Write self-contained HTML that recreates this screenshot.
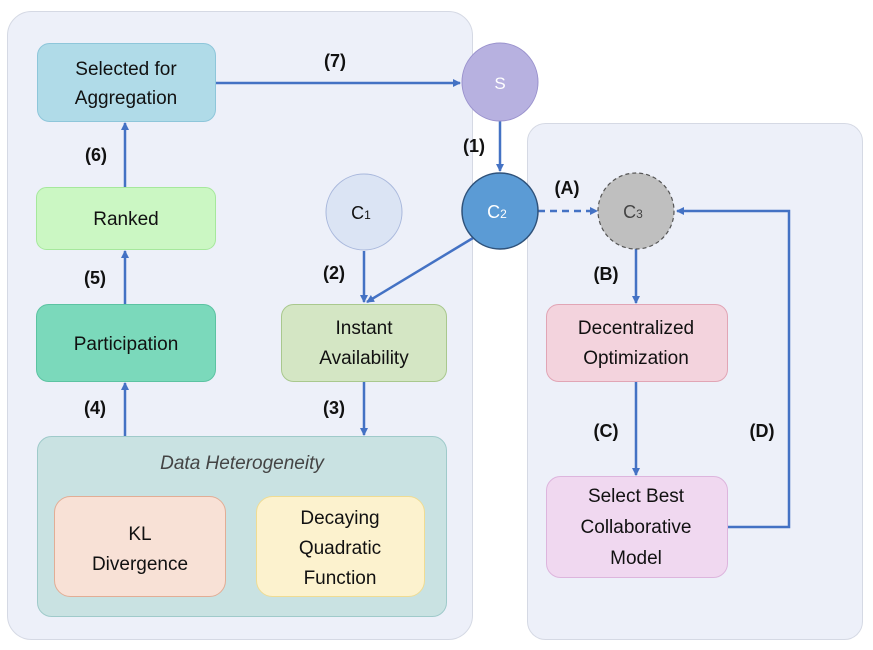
<!DOCTYPE html>
<html><head><meta charset="utf-8"><style>
html,body{margin:0;padding:0;background:#fff;width:873px;height:650px;overflow:hidden}
text{font-family:"Liberation Sans",sans-serif}
</style></head><body>
<svg width="873" height="650" viewBox="0 0 873 650" xmlns="http://www.w3.org/2000/svg">
<defs>
<marker id="a" markerWidth="8" markerHeight="8" refX="7" refY="4" orient="auto" markerUnits="userSpaceOnUse">
<path d="M0,0 L8,4 L0,8 z" fill="#4472c4"/></marker>
</defs>
<rect x="7.5" y="11.5" width="465" height="628" rx="24" fill="#edf0f9" stroke="#d5d9e4"/>
<rect x="527.5" y="123.5" width="335" height="516" rx="18" fill="#edf0f9" stroke="#d5d9e4"/>

<g stroke="#4472c4" stroke-width="2.5" fill="none">
<line x1="216" y1="83" x2="460" y2="83" marker-end="url(#a)"/>
<line x1="500" y1="121" x2="500" y2="171" marker-end="url(#a)"/>
<line x1="364" y1="251" x2="364" y2="302" marker-end="url(#a)"/>
<line x1="473" y1="238" x2="367" y2="302" marker-end="url(#a)"/>
<line x1="364" y1="382" x2="364" y2="435" marker-end="url(#a)"/>
<line x1="125" y1="436" x2="125" y2="383" marker-end="url(#a)"/>
<line x1="125" y1="304" x2="125" y2="251" marker-end="url(#a)"/>
<line x1="125" y1="187" x2="125" y2="123" marker-end="url(#a)"/>
<line x1="538" y1="211" x2="597" y2="211" stroke-dasharray="7,5" marker-end="url(#a)"/>
<line x1="636" y1="249" x2="636" y2="303" marker-end="url(#a)"/>
<line x1="636" y1="382" x2="636" y2="475" marker-end="url(#a)"/>
<polyline points="727,527 789,527 789,211 677,211" marker-end="url(#a)"/>
</g>

<rect x="37.5" y="43.5" width="178" height="78" rx="12" fill="#b0dbe8" stroke="#8ec6da"/>
<rect x="36.5" y="187.5" width="179" height="62" rx="10" fill="#cbf7c3" stroke="#a6e89c"/>
<rect x="36.5" y="304.5" width="179" height="77" rx="12" fill="#7bd9bb" stroke="#5cc3a2"/>
<rect x="281.5" y="304.5" width="165" height="77" rx="12" fill="#d4e6c4" stroke="#a9c88e"/>
<rect x="37.5" y="436.5" width="409" height="180" rx="14" fill="#c9e2e2" stroke="#9fcaca"/>
<rect x="54.5" y="496.5" width="171" height="100" rx="16" fill="#f8e1d6" stroke="#e2ad95"/>
<rect x="256.5" y="496.5" width="168" height="100" rx="16" fill="#fcf2ce" stroke="#efdc93"/>
<rect x="546.5" y="304.5" width="181" height="77" rx="12" fill="#f3d3dd" stroke="#e1a5b5"/>
<rect x="546.5" y="476.5" width="181" height="101" rx="14" fill="#f0d8f0" stroke="#ddb5dd"/>

<ellipse cx="500" cy="82" rx="38" ry="39" fill="#b7b1e0" stroke="#9a92cd"/>
<ellipse cx="364" cy="212" rx="38" ry="38" fill="#dbe4f4" stroke="#a9b8dc"/>
<ellipse cx="500" cy="211" rx="38" ry="38" fill="#5b9bd5" stroke="#2f527a" stroke-width="1.5"/>
<ellipse cx="636" cy="211" rx="38" ry="38" fill="#bfbfbf" stroke="#555" stroke-width="1.2" stroke-dasharray="4,3"/>

<g font-size="19" fill="#111" text-anchor="middle">
<text x="126" y="75">Selected for</text>
<text x="126" y="104">Aggregation</text>
<text x="126" y="225">Ranked</text>
<text x="126" y="350">Participation</text>
<text x="364" y="334">Instant</text>
<text x="364" y="364">Availability</text>
<text x="242" y="469" font-style="italic" fill="#444">Data Heterogeneity</text>
<text x="140" y="540">KL</text>
<text x="140" y="570">Divergence</text>
<text x="340" y="524">Decaying</text>
<text x="340" y="554">Quadratic</text>
<text x="340" y="584">Function</text>
<text x="636" y="334">Decentralized</text>
<text x="636" y="364">Optimization</text>
<text x="636" y="502">Select Best</text>
<text x="636" y="533">Collaborative</text>
<text x="636" y="564">Model</text>
<text x="500" y="89" fill="#fff" font-size="17">S</text>
<text x="361" y="219" font-size="18">C<tspan font-size="12">1</tspan></text>
<text x="497" y="218" fill="#fff" font-size="18">C<tspan font-size="12">2</tspan></text>
<text x="633" y="218" fill="#444" font-size="18">C<tspan font-size="12">3</tspan></text>
</g>
<g font-size="18" font-weight="bold" fill="#111" text-anchor="middle">
<text x="335" y="67">(7)</text>
<text x="474" y="152">(1)</text>
<text x="96" y="161">(6)</text>
<text x="95" y="284">(5)</text>
<text x="95" y="414">(4)</text>
<text x="334" y="279">(2)</text>
<text x="334" y="414">(3)</text>
<text x="567" y="194">(A)</text>
<text x="606" y="280">(B)</text>
<text x="606" y="437">(C)</text>
<text x="762" y="437">(D)</text>
</g>
</svg>
</body></html>
